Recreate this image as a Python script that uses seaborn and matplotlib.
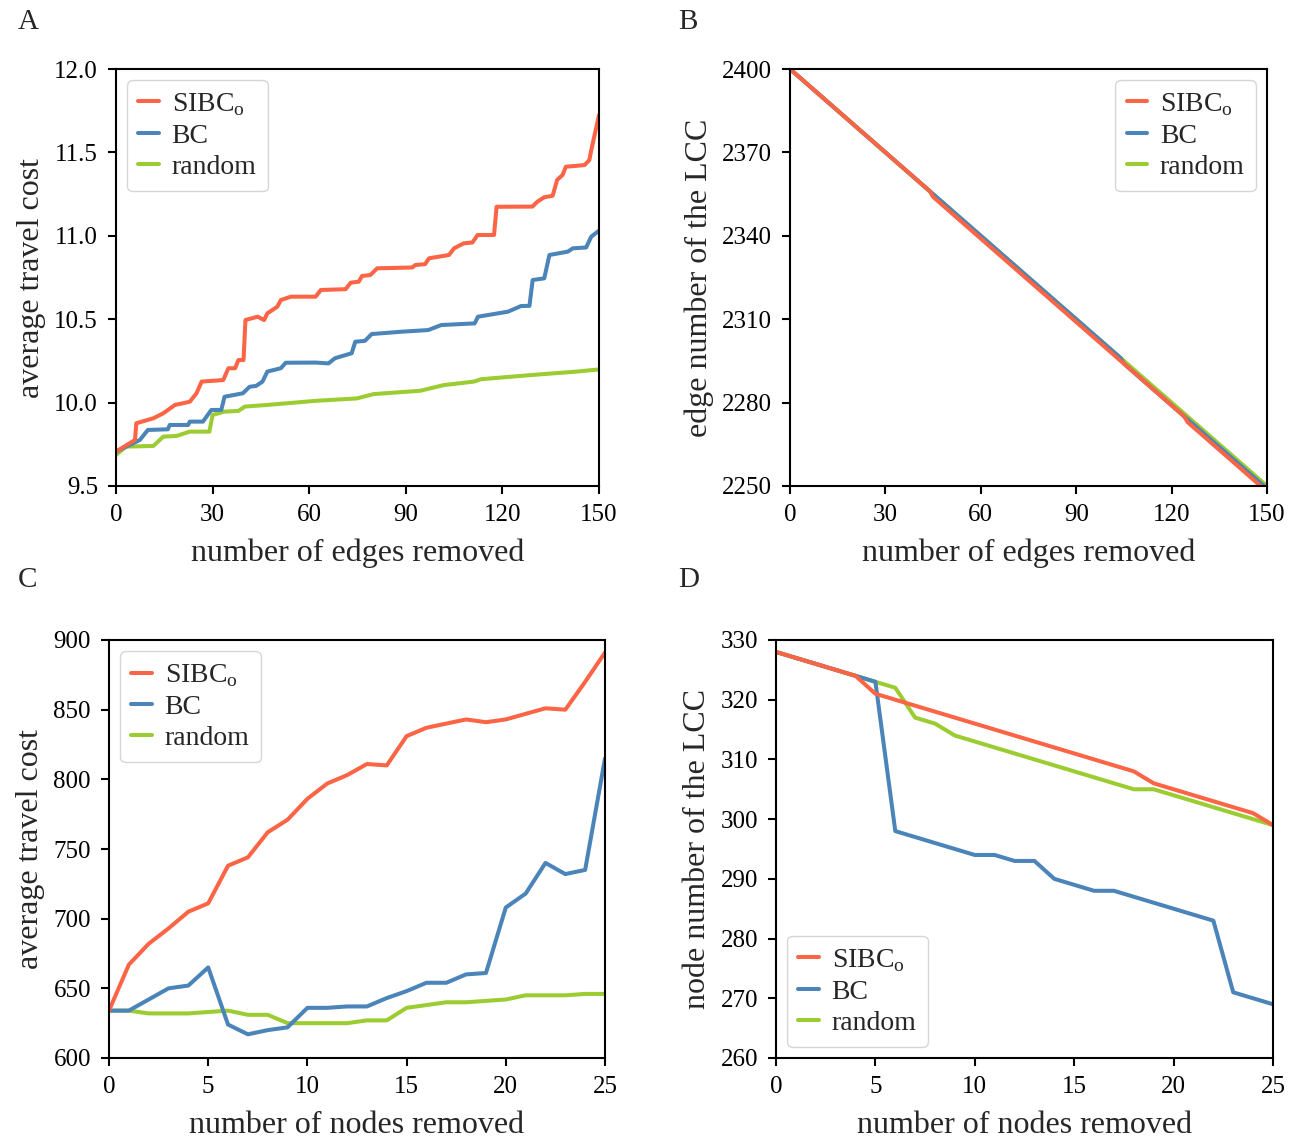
import numpy as np
import pandas as pd
import matplotlib
matplotlib.use('Agg')
import matplotlib.pyplot as plt
import seaborn as sns

# ---- Panel A: edges removed vs average travel cost (vertices)
a_sibc_x = [0, 5.9, 6.3, 11.6, 14.7, 18.3, 22.9, 25, 26.6, 33.3, 34.9, 37, 38, 39.6, 40.2,
            44, 46, 47, 50.1, 51.2, 54.3, 62, 63.6, 71.3, 72.9, 75.4, 76.4, 79, 81.1, 92,
            93, 96, 97.2, 103.4, 105, 108, 110.7, 112.3, 117.4, 118.2, 129.3, 130.9, 133,
            135.6, 137, 138.7, 139.7, 145.5, 147, 147.6, 150]
a_sibc_y = [9.706, 9.776, 9.876, 9.906, 9.936, 9.986, 10.005, 10.056, 10.126, 10.135, 10.206,
            10.206, 10.255, 10.255, 10.495, 10.515, 10.495, 10.535, 10.575, 10.615, 10.635,
            10.635, 10.675, 10.68, 10.719, 10.725, 10.759, 10.765, 10.805, 10.81, 10.825,
            10.83, 10.865, 10.885, 10.925, 10.955, 10.96, 11.005, 11.005, 11.174, 11.175,
            11.205, 11.231, 11.24, 11.335, 11.365, 11.414, 11.424, 11.454, 11.514, 11.724]
a_bc_x = [0, 7.4, 9.9, 16.1, 16.7, 22.4, 22.9, 27, 29.6, 32.7, 33.7, 39.4, 41.5, 43.5, 45.5,
          47, 51.2, 52.7, 62, 66, 68, 73.2, 74.3, 77.3, 79.4, 88.7, 97, 101, 111.4, 112.4,
          121.7, 125.8, 128.4, 129.4, 133, 134.6, 140.3, 141.9, 146, 147.6, 150]
a_bc_y = [9.706, 9.776, 9.836, 9.84, 9.866, 9.866, 9.886, 9.886, 9.956, 9.956, 10.035, 10.056,
          10.095, 10.1, 10.126, 10.186, 10.206, 10.239, 10.24, 10.235, 10.266, 10.296, 10.365,
          10.37, 10.411, 10.425, 10.435, 10.465, 10.475, 10.515, 10.545, 10.579, 10.58,
          10.735, 10.745, 10.885, 10.905, 10.925, 10.93, 10.995, 11.031]
a_rand_x = [0, 3.1, 11.6, 14.7, 18.8, 22.9, 29, 30, 33.7, 38, 40, 47, 62.3, 74.8, 80, 94.5,
            101.8, 111.2, 113.3, 122.5, 132.8, 143.1, 150]
a_rand_y = [9.686, 9.736, 9.74, 9.796, 9.8, 9.826, 9.826, 9.926, 9.946, 9.95, 9.976, 9.986,
            10.011, 10.025, 10.051, 10.071, 10.105, 10.126, 10.14, 10.155, 10.171, 10.186,
            10.199]

# ---- Panel B: edges removed vs edge number of the LCC
b_sibc_x = [0, 44, 45, 124, 125, 150]
b_sibc_y = [2400, 2356, 2354, 2275, 2273, 2248]
b_bc_x = [0, 104, 105, 150]
b_bc_y = [2400, 2296, 2294, 2249]
b_rand_x = [0, 150]
b_rand_y = [2400, 2250]

# ---- Panels C, D: nodes removed (0..25)
nodes = list(range(26))
c_sibc = [634, 667, 682, 693, 705, 711, 738, 744, 762, 771, 786, 797, 803, 811, 810, 831,
          837, 840, 843, 841, 843, 847, 851, 850, 870, 891]
c_bc = [634, 634, 642, 650, 652, 665, 624, 617, 620, 622, 636, 636, 637, 637, 643, 648,
        654, 654, 660, 661, 708, 718, 740, 732, 735, 815]
c_rand = [634, 634, 632, 632, 632, 633, 634, 631, 631, 625, 625, 625, 625, 627, 627, 636,
          638, 640, 640, 641, 642, 645, 645, 645, 646, 646]

d_sibc = [328, 327, 326, 325, 324, 321, 320, 319, 318, 317, 316, 315, 314, 313, 312, 311,
          310, 309, 308, 306, 305, 304, 303, 302, 301, 299]
d_bc = [328, 327, 326, 325, 324, 323, 298, 297, 296, 295, 294, 294, 293, 293, 290, 289,
        288, 288, 287, 286, 285, 284, 283, 271, 270, 269]
d_rand = [328, 327, 326, 325, 324, 323, 322, 317, 316, 314, 313, 312, 311, 310, 309, 308,
          307, 306, 305, 305, 304, 303, 302, 301, 300, 299]

names = ['SIBC$_\\mathrm{o}$', 'BC', 'random']
colors = ['#fb6444', '#4a84b8', '#9bcc32']

sns.set_style('ticks')
plt.rcParams['font.family'] = ['Liberation Serif', 'DejaVu Serif']
plt.rcParams['mathtext.fontset'] = 'custom'
plt.rcParams['mathtext.rm'] = 'Liberation Serif'
plt.rcParams['axes.linewidth'] = 1.5
plt.rcParams['xtick.major.width'] = 1.5
plt.rcParams['ytick.major.width'] = 1.5
plt.rcParams['xtick.major.size'] = 6
plt.rcParams['ytick.major.size'] = 6
plt.rcParams['xtick.color'] = 'black'
plt.rcParams['ytick.color'] = 'black'
plt.rcParams['axes.edgecolor'] = 'black'

fig = plt.figure(figsize=(13.02, 11.37), dpi=100)
W, H = 1302, 1137


def make_ax(l, r, t, b):
    return fig.add_axes([l / W, 1 - b / H, (r - l) / W, (b - t) / H])


def draw(ax, series, loc):
    # draw random first, SIBC on top
    for i in [2, 1, 0]:
        x, y = series[i]
        df = pd.DataFrame({'x': x, 'y': y})
        sns.lineplot(data=df, x='x', y='y', ax=ax, color=colors[i], linewidth=2.9,
                     sort=False, label=names[i])
    h, lab = ax.get_legend_handles_labels()
    order = [2, 1, 0]
    ax.legend([h[k] for k in order], [lab[k] for k in order], loc=loc, fontsize=20,
              handlelength=0.75, handletextpad=0.45, labelspacing=0.2, borderpad=0.4,
              borderaxespad=0.4, frameon=True, fancybox=True, framealpha=0.8,
              edgecolor='#cccccc')


axA = make_ax(116, 599, 69, 486)
draw(axA, [(a_sibc_x, a_sibc_y), (a_bc_x, a_bc_y), (a_rand_x, a_rand_y)], 'upper left')
axA.set_xlim(0, 150)
axA.set_ylim(9.5, 12.0)
axA.set_xticks(np.arange(0, 151, 30))
axA.set_yticks(np.arange(9.5, 12.01, 0.5))
axA.set_xlabel('number of edges removed')
axA.set_ylabel('average travel cost')

axB = make_ax(790, 1267, 69, 486)
draw(axB, [(b_sibc_x, b_sibc_y), (b_bc_x, b_bc_y), (b_rand_x, b_rand_y)], 'upper right')
axB.set_xlim(0, 150)
axB.set_ylim(2250, 2400)
axB.set_xticks(np.arange(0, 151, 30))
axB.set_yticks(np.arange(2250, 2401, 30))
axB.set_xlabel('number of edges removed')
axB.set_ylabel('edge number of the LCC')

axC = make_ax(109, 605, 640, 1058)
draw(axC, [(nodes, c_sibc), (nodes, c_bc), (nodes, c_rand)], 'upper left')
axC.set_xlim(0, 25)
axC.set_ylim(600, 900)
axC.set_xticks(np.arange(0, 26, 5))
axC.set_yticks(np.arange(600, 901, 50))
axC.set_xlabel('number of nodes removed')
axC.set_ylabel('average travel cost')

axD = make_ax(776, 1273, 640, 1058)
draw(axD, [(nodes, d_sibc), (nodes, d_bc), (nodes, d_rand)], 'lower left')
axD.set_xlim(0, 25)
axD.set_ylim(260, 330)
axD.set_xticks(np.arange(0, 26, 5))
axD.set_yticks(np.arange(260, 331, 10))
axD.set_xlabel('number of nodes removed')
axD.set_ylabel('node number of the LCC')

for ax in [axA, axB, axC, axD]:
    ax.tick_params(labelsize=18, pad=7)
    ax.xaxis.label.set_size(23)
    ax.yaxis.label.set_size(23)
    ax.xaxis.labelpad = 9
    ax.yaxis.labelpad = 6
    for s in ax.spines.values():
        s.set_visible(True)

for letter, px, py in [('A', 18, 22), ('B', 678, 22), ('C', 18, 580), ('D', 678, 580)]:
    fig.text(px / W, 1 - py / H, letter, fontsize=21, va='center', ha='left')

fig.savefig('out.png', dpi=100)
